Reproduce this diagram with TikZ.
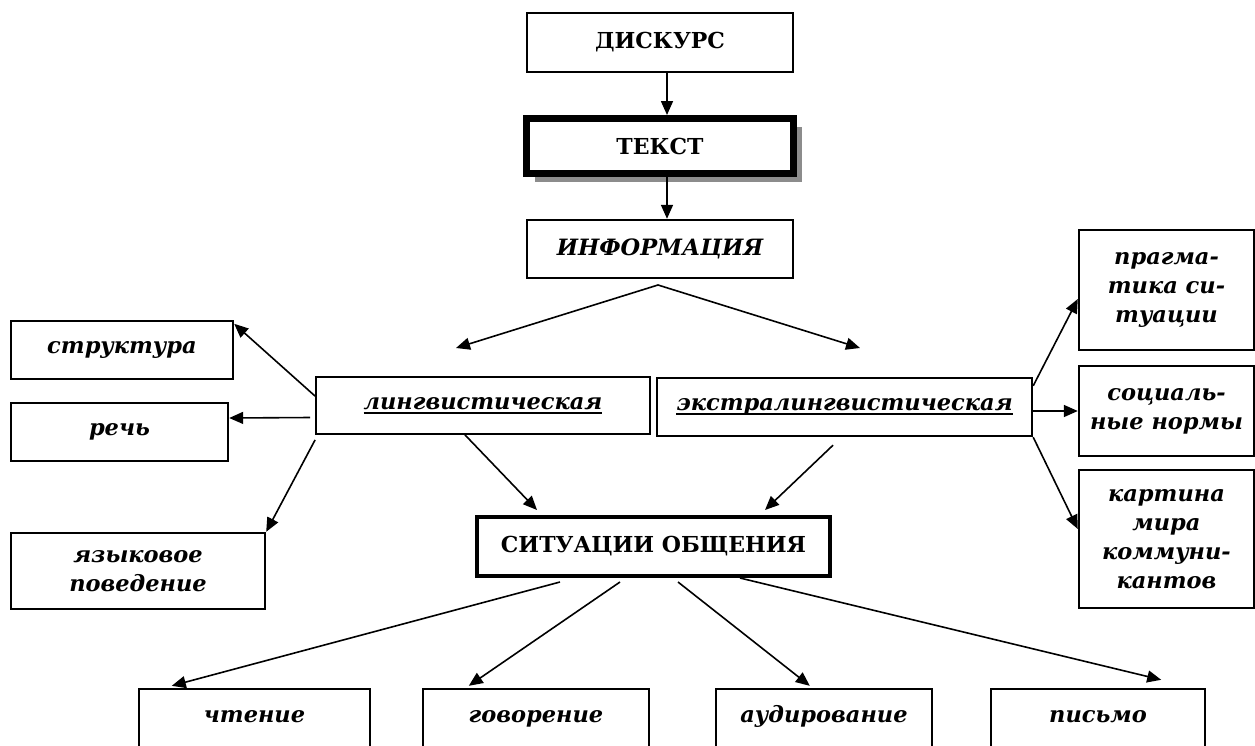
\documentclass[tikz,border=0pt]{standalone}
\usepackage{fontspec}
\setmainfont{DejaVu Serif}
\usetikzlibrary{arrows.meta,shadows}
\newcommand\ulb[1]{\setbox0\hbox{#1}\rlap{\rule[-4.5pt]{\wd0}{2pt}}\box0}
\begin{document}
\begin{tikzpicture}[x=1pt,y=-1pt,
  box/.style={draw, line width=2.4pt, inner sep=0pt, align=center,
    font=\fontsize{22.5}{29}\selectfont\bfseries\itshape},
  capbox/.style={box, font=\fontsize{22}{28}\selectfont\bfseries},
  lowbox/.style={box, text height=12pt, text depth=5pt},
  arr/.style={-{Triangle[length=14pt,width=12pt]}, line width=1.6pt}]
\useasboundingbox (0,0) rectangle (1255,745);
\clip (0,0) rectangle (1255,745);
\fill[white] (0,0) rectangle (1255,745);

\node[capbox, minimum width=266pt, minimum height=59pt] (disk) at (660,42.5) {ДИСКУРС};
\node[capbox, line width=7pt, minimum width=267pt, minimum height=55pt,
  drop shadow={shadow xshift=8pt, shadow yshift=-8pt, fill=black!45, opacity=1}, fill=white]
  (tekst) at (660,146) {ТЕКСТ};
\node[box, minimum width=266pt, minimum height=58pt] (info) at (660,249) {ИНФОРМАЦИЯ};

\node[box, line width=1.8pt, minimum width=334pt, minimum height=57pt] (ling) at (483,405.5) {\ulb{лингвистическая}};
\node[box, minimum width=375pt, minimum height=58pt] (extra) at (844.5,407) {\ulb{экстралингвистическая}};

\node[box, minimum width=222pt, minimum height=58pt] (struct) at (122,350) {структура};
\node[box, minimum width=217pt, minimum height=58pt] (rech) at (119.5,432) {речь};
\node[box, minimum width=254pt, minimum height=76pt] (yaz) at (138,571) {языковое\\поведение};

\node[box, minimum width=175pt, minimum height=120pt] (prag) at (1166.5,290) {прагма-\\тика си-\\туации};
\node[box, minimum width=175pt, minimum height=90pt] (soc) at (1166.5,411) {социаль-\\ные нормы};
\node[box, minimum width=175pt, minimum height=138pt] (kart) at (1166.5,539) {картина\\мира\\коммуни-\\кантов};

\node[capbox, line width=4pt, minimum width=353pt, minimum height=59pt] (sit) at (653.5,546.5) {СИТУАЦИИ ОБЩЕНИЯ};

\node[lowbox, minimum width=231pt, minimum height=60pt] (chten) at (254.5,719) {чтение};
\node[lowbox, minimum width=226pt, minimum height=60pt] (gov) at (536,719) {говорение};
\node[lowbox, minimum width=216pt, minimum height=60pt] (aud) at (824,719) {аудирование};
\node[lowbox, minimum width=214pt, minimum height=60pt] (pis) at (1098,719) {письмо};

% vertical chain
\draw[arr] ([xshift=7pt]disk.south) -- ([xshift=7pt]tekst.north);
\draw[arr] ([xshift=7pt]tekst.south) -- ([xshift=7pt]info.north);

% split from ИНФОРМАЦИЯ
\coordinate (apex) at (658,285);
\coordinate (tl) at (456,348);
\coordinate (tr) at (860,348);
\draw[arr] (apex) -- (tl);
\draw[arr] (apex) -- (tr);

% from лингвистическая
\draw[arr] ([yshift=-20pt]ling.north west) -- ([yshift=-4pt]struct.north east);
\draw[arr] ([xshift=-5pt,yshift=-12pt]ling.west) -- ([yshift=14pt]rech.east);
\draw[arr] ([yshift=-5pt]ling.south west) -- (yaz.north east);
\draw[arr] ([xshift=-18pt]ling.south) -- ([xshift=-116.5pt,yshift=5pt]sit.north);

% from экстралингвистическая
\draw[arr] ([xshift=-11.5pt,yshift=-8pt]extra.south) -- ([xshift=111.5pt,yshift=5pt]sit.north);
\draw[arr] ([yshift=-9pt]extra.north east) -- ([yshift=-9pt]prag.west);
\draw[arr] (extra.east |- soc.west) -- (soc.west);
\draw[arr] (extra.south east) -- ([yshift=10pt]kart.west);

% from СИТУАЦИИ ОБЩЕНИЯ
\draw[arr] ([xshift=-93.5pt,yshift=-4pt]sit.south) -- ([xshift=34pt,yshift=2pt]chten.north west);
\draw[arr] ([xshift=-33.5pt,yshift=-4pt]sit.south) -- ([xshift=47pt,yshift=2pt]gov.north west);
\draw[arr] ([xshift=24.5pt,yshift=-4pt]sit.south) -- ([xshift=95pt,yshift=2pt]aud.north west);
\draw[arr] ([xshift=86.5pt]sit.south) -- ([xshift=-45pt,yshift=8pt]pis.north east);
\end{tikzpicture}
\end{document}
